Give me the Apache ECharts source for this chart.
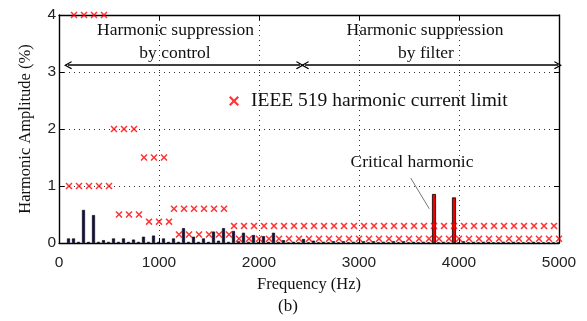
<!DOCTYPE html>
<html>
<head>
<meta charset="utf-8">
<script src="https://cdn.jsdelivr.net/npm/echarts@6/dist/echarts.min.js"></script>
<style>
  html, body { margin: 0; padding: 0; background: #fff; }
  #chart { width: 587px; height: 321px; }
</style>
</head>
<body>
<div id="chart"></div>
<script>
// Harmonic spectrum of the grid current, orders 2..100 of a 50 Hz fundamental
const fundamentalHz = 50;
const firstOrder = 2;

// Measured harmonic amplitude (% of fundamental), one entry per order starting at 2
const spectrumPct = [
  0.08, 0.08, 0.02, 0.58, 0.02, 0.49, 0.02, 0.05, 0.02,        // 2..10
  0.08, 0.02, 0.08, 0.02, 0.06, 0.02, 0.11, 0.02, 0.13, 0.02,  // 11..20
  0.08, 0.02, 0.08, 0.02, 0.26, 0.02, 0.11, 0.02, 0.08, 0.02,  // 21..30
  0.20, 0.04, 0.26, 0.02, 0.21, 0.03, 0.18, 0.02, 0.14, 0.02,  // 31..40
  0.12, 0.02, 0.18, 0.02, 0.05, 0.01, 0.02, 0.01, 0.07, 0.01,  // 41..50
  0.04, 0.01, 0.02, 0.01, 0.03, 0.01, 0.03, 0.01, 0.02, 0.01,  // 51..60
  0.03, 0.01, 0.03, 0.01, 0.02, 0.01, 0.03, 0.01, 0.03, 0.01,  // 61..70
  0.02, 0.01, 0.02, 0.01, 0.86, 0.01, 0.02, 0.01, 0.80, 0.01,  // 71..80
  0.03, 0.01, 0.02, 0.01, 0.02, 0.02, 0.01, 0.01, 0.02, 0.01,  // 81..90
  0.02, 0.01, 0.01, 0.01, 0.02, 0.01, 0.01, 0.01, 0.01, 0.01   // 91..100
];

// Orders that stand out above the filtered spectrum
const criticalOrders = [75, 79];

// IEEE 519 current distortion limit (%) per order starting at 2
const limitPct = [
  1, 4, 1, 4, 1, 4, 1, 4, 1,                                   // 2..10
  2, 0.5, 2, 0.5, 2, 0.5,                                      // 11..16
  1.5, 0.375, 1.5, 0.375, 1.5, 0.375,                          // 17..22
  0.6, 0.15, 0.6, 0.15, 0.6, 0.15, 0.6, 0.15, 0.6, 0.15, 0.6, 0.15, // 23..34
  0.3, 0.075, 0.3, 0.075, 0.3, 0.075, 0.3, 0.075, 0.3, 0.075,  // 35..44
  0.3, 0.075, 0.3, 0.075, 0.3, 0.075, 0.3, 0.075, 0.3, 0.075,  // 45..54
  0.3, 0.075, 0.3, 0.075, 0.3, 0.075, 0.3, 0.075, 0.3, 0.075,  // 55..64
  0.3, 0.075, 0.3, 0.075, 0.3, 0.075, 0.3, 0.075, 0.3, 0.075,  // 65..74
  0.3, 0.075, 0.3, 0.075, 0.3, 0.075, 0.3, 0.075, 0.3, 0.075,  // 75..84
  0.3, 0.075, 0.3, 0.075, 0.3, 0.075, 0.3, 0.075, 0.3, 0.075,  // 85..94
  0.3, 0.075, 0.3, 0.075, 0.3, 0.075                           // 95..100
];

// Axis ranges
const freqRange = [0, 5000];
const freqStep = 1000;
const ampRange = [0, 4];
const ampStep = 1;

// Region arrows (frequency span, height in %)
const controlSpan = [90, 2410];
const filterSpan = [2460, 4990];
const spanLevel = 3.12;

const SERIF = '"Liberation Serif", "Times New Roman", serif';
const SANS = '"Liberation Sans", Arial, sans-serif';
const CROSS = 'path://M0,1.5L1.5,0L5,3.5L8.5,0L10,1.5L6.5,5L10,8.5L8.5,10L5,6.5L1.5,10L0,8.5L3.5,5Z';
const CHEVRON = 'path://M5,0L10,9L8.8,10L5,3.2L1.2,10L0,9Z';

const orderOf = (i) => firstOrder + i;
const regularBars = [];
const criticalBars = [];
spectrumPct.forEach((v, i) => {
  const point = [orderOf(i) * fundamentalHz, v];
  (criticalOrders.includes(orderOf(i)) ? criticalBars : regularBars).push(point);
});
const limitData = limitPct.map((v, i) => [orderOf(i) * fundamentalHz, v]);

const chart = echarts.init(document.getElementById('chart'), null, { renderer: 'canvas' });

const frameLine = { show: true, onZero: false, lineStyle: { color: '#000', width: 1.4 } };
const inTick = { show: true, inside: true, length: 5, lineStyle: { color: '#000', width: 1 } };
const dotted = { show: true, lineStyle: { color: '#333', width: 1, type: [1, 4] } };

chart.setOption({
  animation: false,
  backgroundColor: '#fff',
  grid: { left: 59, right: 28, top: 15, bottom: 78 },
  legend: {
    data: [{ name: 'IEEE 519 harmonic current limit', icon: CROSS }],
    left: 224,
    top: 86,
    itemWidth: 10,
    itemHeight: 10,
    textStyle: { fontFamily: SERIF, fontSize: 19.5, color: '#111', padding: [0, 0, 0, 7] },
    selectedMode: false
  },
  xAxis: [
    {
      type: 'value', position: 'bottom',
      min: freqRange[0], max: freqRange[1], interval: freqStep,
      axisLine: frameLine, axisTick: inTick, splitLine: dotted,
      axisLabel: { fontFamily: SANS, fontSize: 15.5, color: '#222', margin: 12,
                   formatter: (v) => String(v) },
      name: 'Frequency (Hz)', nameLocation: 'middle', nameGap: 30,
      nameTextStyle: { fontFamily: SERIF, fontSize: 16.5, color: '#111' }
    },
    {
      type: 'value', position: 'top',
      min: freqRange[0], max: freqRange[1], interval: freqStep,
      axisLine: frameLine, axisTick: inTick, splitLine: { show: false },
      axisLabel: { show: false }
    }
  ],
  yAxis: [
    {
      type: 'value', position: 'left',
      min: ampRange[0], max: ampRange[1], interval: ampStep,
      axisLine: frameLine, axisTick: inTick, splitLine: dotted,
      axisLabel: { fontFamily: SANS, fontSize: 15.5, color: '#222', margin: 3 },
      name: 'Harmonic Amplitude (%)', nameLocation: 'middle', nameGap: 25,
      nameTextStyle: { fontFamily: SERIF, fontSize: 16.5, color: '#111' }
    },
    {
      type: 'value', position: 'right',
      min: ampRange[0], max: ampRange[1], interval: ampStep,
      axisLine: frameLine, axisTick: inTick, splitLine: { show: false },
      axisLabel: { show: false }
    }
  ],
  series: [
    {
      name: 'Harmonic spectrum',
      type: 'bar',
      xAxisIndex: 0, yAxisIndex: 0,
      data: regularBars,
      barWidth: 3,
      itemStyle: { color: '#0c0c5a', borderColor: '#000', borderWidth: 0.6 },
      z: 2
    },
    {
      name: 'Critical harmonic',
      type: 'bar',
      xAxisIndex: 0, yAxisIndex: 0,
      data: criticalBars,
      barWidth: 4,
      barGap: '-100%',
      itemStyle: { color: '#ee0000', borderColor: '#000', borderWidth: 0.8 },
      z: 2
    },
    {
      name: 'IEEE 519 harmonic current limit',
      type: 'scatter',
      xAxisIndex: 0, yAxisIndex: 0,
      data: limitData,
      symbol: CROSS,
      symbolSize: 7,
      itemStyle: { color: '#ff0000' },
      z: 3,
      markLine: {
        silent: true,
        symbol: [CHEVRON, CHEVRON],
        symbolSize: [8, 8],
        label: { show: false },
        lineStyle: { color: '#000', width: 1.5, type: 'solid' },
        data: [
          [{ coord: [controlSpan[0], spanLevel] }, { coord: [controlSpan[1], spanLevel] }],
          [{ coord: [filterSpan[0], spanLevel] }, { coord: [filterSpan[1], spanLevel] }]
        ]
      }
    }
  ]
});

// Text annotations anchored in data coordinates
const toPx = (f, a) => chart.convertToPixel({ xAxisIndex: 0, yAxisIndex: 0 }, [f, a]);
const note = (txt, f, a, size) => {
  const p = toPx(f, a);
  return {
    type: 'text', x: p[0], y: p[1], z: 10,
    style: { text: txt, align: 'center', verticalAlign: 'middle',
             font: size + 'px ' + SERIF, fill: '#111' }
  };
};
const leadFrom = toPx(3517, 1.14);
const leadTo = toPx(3703, 0.6);

chart.setOption({
  graphic: [
    note('Harmonic suppression', 1165, 3.737, 17.5),
    note('by control', 1160, 3.333, 17.5),
    note('Harmonic suppression', 3660, 3.737, 17.5),
    note('by filter', 3670, 3.333, 17.5),
    note('Critical harmonic', 3530, 1.42, 17.5),
    {
      type: 'line', z: 10,
      shape: { x1: leadFrom[0], y1: leadFrom[1], x2: leadTo[0], y2: leadTo[1] },
      style: { stroke: '#777', lineWidth: 1 }
    },
    {
      type: 'text', x: 288, y: 307, z: 10,
      style: { text: '(b)', align: 'center', verticalAlign: 'middle',
               font: '17px ' + SERIF, fill: '#111' }
    }
  ]
});
</script>
</body>
</html>
